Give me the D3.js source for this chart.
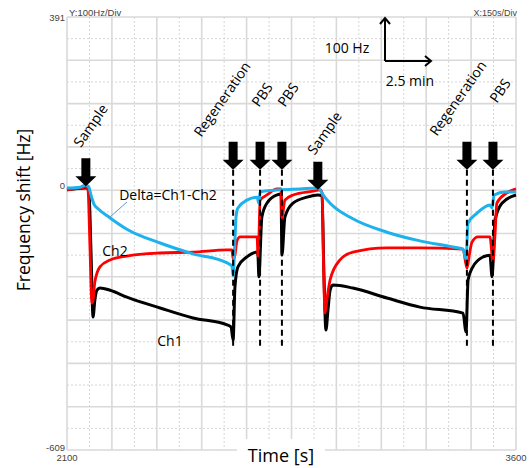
<!DOCTYPE html>
<html><head><meta charset="utf-8">
<script src="https://cdn.jsdelivr.net/npm/d3@7"></script>
<style>html,body{margin:0;padding:0;background:#fff;}svg{display:block;}</style>
</head><body>
<script>
// ---- data ----
const xDomain = [2100, 3600];
const yDomain = [-609, 391];
const xTickLabels = ["2100", "3600"];
const yTickLabels = ["391", "0", "-609"];
const yTickValues = [391, 0, -609];

// [time s, frequency shift Hz]
const ch1 = [[2100,-8],[2163,-4],[2173,-8],[2180,-147],[2187,-302],[2193,-263],[2200,-240],[2210,-235],[2244,-240],[2300,-256],[2411,-281],[2521,-304],[2635,-320],[2648,-325],[2655,-355],[2661,-233],[2671,-186],[2701,-163],[2735,-152],[2738,-160],[2741,-209],[2751,-71],[2768,-39],[2802,-20],[2815,-18],[2818,-159],[2828,-71],[2855,-39],[2902,-25],[2938,-20],[2952,-22],[2958,-193],[2965,-332],[2972,-285],[2979,-240],[2988,-228],[3055,-235],[3169,-258],[3279,-279],[3423,-293],[3433,-336],[3440,-216],[3456,-186],[3490,-163],[3513,-159],[3520,-209],[3530,-78],[3553,-39],[3600,-20]];
const ch2 = [[2100,-8],[2143,-4],[2163,-2],[2170,-8],[2177,-147],[2183,-270],[2187,-263],[2193,-221],[2210,-186],[2244,-170],[2300,-161],[2411,-154],[2521,-152],[2635,-147],[2651,-147],[2655,-168],[2661,-159],[2668,-126],[2678,-117],[2735,-117],[2738,-161],[2741,-124],[2745,-32],[2768,-20],[2802,-6],[2815,-6],[2818,-73],[2828,-32],[2855,-20],[2922,-11],[2945,-8],[2952,-15],[2958,-216],[2962,-293],[2968,-263],[2979,-216],[3012,-170],[3055,-152],[3169,-142],[3279,-142],[3423,-145],[3436,-189],[3446,-150],[3453,-129],[3473,-117],[3513,-117],[3523,-175],[3530,-110],[3536,-39],[3570,-15],[3600,-6]];
const deltaCh = [[2100,-4],[2143,-2],[2163,3],[2173,-2],[2180,-20],[2190,-41],[2204,-52],[2244,-73],[2300,-99],[2411,-131],[2521,-156],[2635,-177],[2651,-184],[2655,-207],[2661,-124],[2665,-69],[2671,-50],[2701,-32],[2735,-25],[2741,-39],[2745,-13],[2812,-8],[2878,-6],[2938,-4],[2945,-8],[2958,-22],[2979,-39],[3055,-75],[3169,-106],[3279,-126],[3389,-140],[3423,-145],[3433,-168],[3440,-85],[3470,-62],[3513,-43],[3520,-50],[3527,-20],[3563,-13],[3600,-13]];

const eventNames = ["Sample","Regeneration","PBS","PBS","Sample","Regeneration","PBS"];
const eventTimes = [2163, 2655, 2745, 2818, 2938, 3436, 3523];
const eventTipHz = [0, 38, 38, 38, -8, 38, 38];
const eventDashed = [false, true, true, true, false, true, true];
const dashBottomHz = -373;

const seriesNames = ["Ch1", "Ch2", "Delta=Ch1-Ch2"];
const scaleBarLabels = ["100 Hz", "2.5 min"];

// ---- layout ----
const W = 532, H = 468;
const L = 67, R = 516, T = 17, B = 450;
const svg = d3.select("body").append("svg").attr("width", W).attr("height", H);
const x = d3.scaleLinear().domain(xDomain).range([L, R]);
const y = d3.scaleLinear().domain(yDomain).range([B, T]);

// grid
const xMaj = d3.range(xDomain[0], xDomain[1] + 1, 150);
const xMin = d3.range(xDomain[0] + 75, xDomain[1], 150);
const yMaj = d3.range(yDomain[1], yDomain[0] - 1, -100);
const yMin = d3.range(yDomain[1] - 50, yDomain[0], -100);
const g = svg.append("g");
g.selectAll(".vmin").data(xMin).join("line").attr("x1", d => x(d)).attr("x2", d => x(d)).attr("y1", T).attr("y2", B)
  .attr("stroke", "#d6d6d6").attr("stroke-width", 1).attr("stroke-dasharray", "2,2");
g.selectAll(".hmin").data(yMin).join("line").attr("y1", d => y(d)).attr("y2", d => y(d)).attr("x1", L).attr("x2", R)
  .attr("stroke", "#d6d6d6").attr("stroke-width", 1).attr("stroke-dasharray", "2,2");
g.selectAll(".vmaj").data(xMaj).join("line").attr("x1", d => x(d)).attr("x2", d => x(d)).attr("y1", T).attr("y2", B)
  .attr("stroke", "#d9d9d9").attr("stroke-width", 1.6);
g.selectAll(".hmaj").data(yMaj).join("line").attr("y1", d => y(d)).attr("y2", d => y(d)).attr("x1", L).attr("x2", R)
  .attr("stroke", "#d9d9d9").attr("stroke-width", 1.6);

// tick text
const tickFont = "'Liberation Sans', Arial, sans-serif";
svg.selectAll(".ytick").data(yTickValues).join("text")
  .attr("x", L - 2).attr("y", (d, i) => y(d) + (i === 0 ? 4 : (i === 2 ? 1 : 3)))
  .attr("text-anchor", "end").attr("font-family", tickFont).attr("font-size", 9.5).attr("fill", "#444")
  .text((d, i) => yTickLabels[i]);
svg.selectAll(".xtick").data(xDomain).join("text")
  .attr("x", d => x(d)).attr("y", B + 11).attr("text-anchor", "middle")
  .attr("font-family", tickFont).attr("font-size", 9.5).attr("fill", "#444")
  .text((d, i) => xTickLabels[i]);
svg.append("text").attr("x", L + 2).attr("y", T - 1).attr("font-family", tickFont).attr("font-size", 9.5).attr("fill", "#444").text("Y:100Hz/Div");
svg.append("text").attr("x", R + 1).attr("y", T - 1).attr("text-anchor", "end").attr("font-family", tickFont).attr("font-size", 9).attr("fill", "#444").text("X:150s/Div");

// axis titles
const lblFont = "'Open Sans', 'Noto Sans', sans-serif";
svg.append("rect").attr("x", 237).attr("y", 439).attr("width", 88).attr("height", 29).attr("fill", "#fff");
svg.append("text").attr("x", 281).attr("y", 462).attr("text-anchor", "middle").attr("font-family", lblFont).attr("font-size", 18).attr("fill", "#000").text("Time [s]");
svg.append("text").attr("transform", "translate(29.5,210) rotate(-90)").attr("text-anchor", "middle").attr("font-family", lblFont).attr("font-size", 17.5).attr("fill", "#000").text("Frequency shift [Hz]");

// series
const line = d3.line().x(d => x(d[0])).y(d => y(d[1])).curve(d3.curveMonotoneX);
const plot = svg.append("g");
plot.append("path").datum(ch1).attr("d", line).attr("fill", "none").attr("stroke", "#000").attr("stroke-width", 3).attr("stroke-linejoin", "round");
plot.append("path").datum(ch2).attr("d", line).attr("fill", "none").attr("stroke", "#ff0000").attr("stroke-width", 2.8).attr("stroke-linejoin", "round");
plot.append("path").datum(deltaCh).attr("d", line).attr("fill", "none").attr("stroke", "#1db2ec").attr("stroke-width", 3).attr("stroke-linejoin", "round");

// event dashed lines
eventTimes.forEach((t, i) => {
  if (!eventDashed[i]) return;
  svg.append("line").attr("x1", x(t)).attr("x2", x(t)).attr("y1", y(eventTipHz[i])).attr("y2", y(dashBottomHz))
    .attr("stroke", "#000").attr("stroke-width", 2).attr("stroke-dasharray", "6,4");
});
// event arrows
const labelDx = [-5, -32, -1, 3, -3, -30, 4];
const labelDy = [-10, -4, -34, -34, -6, -5, -38];
eventTimes.forEach((t, i) => {
  const tx = x(t), ty = y(eventTipHz[i]);
  const p = `M${tx-4.5},${ty-28}L${tx+4.5},${ty-28}L${tx+4.5},${ty-10}L${tx+10.5},${ty-10}L${tx},${ty}L${tx-10.5},${ty-10}L${tx-4.5},${ty-10}Z`;
  svg.append("path").attr("d", p).attr("fill", "#000");
  const ax = tx + labelDx[i], ay = ty - 28 + labelDy[i];
  svg.append("text").attr("transform", `translate(${ax},${ay}) rotate(-55)`)
    .attr("font-family", lblFont).attr("font-size", 14).attr("fill", "#000").text(eventNames[i]);
});

// series labels
svg.append("line").attr("x1", 127).attr("y1", 202).attr("x2", 110).attr("y2", 217).attr("stroke", "#5b9bd5").attr("stroke-width", 1);
svg.append("text").attr("x", 168).attr("y", 200).attr("text-anchor", "middle").attr("font-family", lblFont).attr("font-size", 14).text(seriesNames[2]);
svg.append("text").attr("x", 115).attr("y", 256).attr("text-anchor", "middle").attr("font-family", lblFont).attr("font-size", 14).text(seriesNames[1]);
svg.append("text").attr("x", 170).attr("y", 346).attr("text-anchor", "middle").attr("font-family", lblFont).attr("font-size", 14).text(seriesNames[0]);

// scale bar
const sb = svg.append("g").attr("stroke", "#000").attr("stroke-width", 2).attr("fill", "none");
sb.append("path").attr("d", "M385,61L385,18");
sb.append("path").attr("d", "M380,24L385,18L390,24");
sb.append("path").attr("d", "M385,61L431,61");
sb.append("path").attr("d", "M425,56L431,61L425,66");
svg.append("text").attr("x", 347).attr("y", 53).attr("text-anchor", "middle").attr("font-family", lblFont).attr("font-size", 14).text(scaleBarLabels[0]);
svg.append("text").attr("x", 410).attr("y", 86).attr("text-anchor", "middle").attr("font-family", lblFont).attr("font-size", 14).text(scaleBarLabels[1]);
</script>
</body></html>
